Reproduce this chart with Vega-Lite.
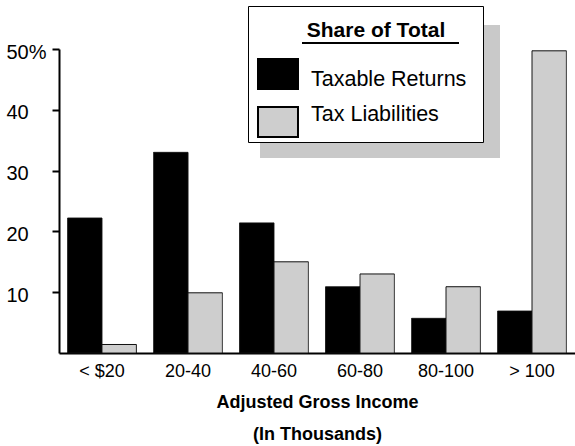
{
  "$schema": "https://vega.github.io/schema/vega-lite/v6.json",
  "width": 516,
  "height": 304,
  "autosize": {"type": "none"},
  "padding": {"left": 59, "top": 49, "right": 0, "bottom": 93},
  "background": "white",
  "config": {
    "font": "Liberation Sans",
    "view": {"stroke": null}
  },
  "data": {
    "values": [
      {"income": "< $20", "series": "Taxable Returns", "share": 22.2},
      {"income": "< $20", "series": "Tax Liabilities", "share": 1.4},
      {"income": "20-40", "series": "Taxable Returns", "share": 33.0},
      {"income": "20-40", "series": "Tax Liabilities", "share": 9.9},
      {"income": "40-60", "series": "Taxable Returns", "share": 21.4},
      {"income": "40-60", "series": "Tax Liabilities", "share": 15.0},
      {"income": "60-80", "series": "Taxable Returns", "share": 10.9},
      {"income": "60-80", "series": "Tax Liabilities", "share": 13.0},
      {"income": "80-100", "series": "Taxable Returns", "share": 5.7},
      {"income": "80-100", "series": "Tax Liabilities", "share": 10.9},
      {"income": "> 100", "series": "Taxable Returns", "share": 6.9},
      {"income": "> 100", "series": "Tax Liabilities", "share": 49.7}
    ]
  },
  "mark": {"type": "bar"},
  "encoding": {
    "x": {
      "field": "income",
      "type": "nominal",
      "sort": ["< $20", "20-40", "40-60", "60-80", "80-100", "> 100"],
      "scale": {"paddingInner": 0.2, "paddingOuter": 0.1},
      "axis": {
        "labelAngle": 0,
        "ticks": false,
        "domainColor": "black",
        "domainWidth": 2,
        "labelFont": "Liberation Sans",
        "labelFontSize": 18,
        "labelColor": "black",
        "labelPadding": 9,
        "title": ["Adjusted Gross Income", "(In Thousands)"],
        "titleFont": "Liberation Sans",
        "titleFontSize": 18,
        "titleFontWeight": "bold",
        "titleColor": "black",
        "titleLineHeight": 32,
        "titlePadding": 13
      }
    },
    "xOffset": {
      "field": "series",
      "type": "nominal",
      "sort": ["Taxable Returns", "Tax Liabilities"],
      "scale": {"paddingInner": 0, "paddingOuter": 0}
    },
    "y": {
      "field": "share",
      "type": "quantitative",
      "scale": {"domain": [0, 50], "nice": false},
      "axis": {
        "title": null,
        "grid": false,
        "values": [10, 20, 30, 40, 50],
        "labelExpr": "datum.value == 50 ? '50%' : datum.label",
        "domainColor": "black",
        "domainWidth": 2,
        "tickColor": "black",
        "tickWidth": 2,
        "tickSize": 7,
        "labelFont": "Liberation Sans",
        "labelFontSize": 20,
        "labelColor": "black",
        "labelAlign": "left",
        "labelPadding": 46,
        "labelOffset": 3
      }
    },
    "fill": {
      "field": "series",
      "type": "nominal",
      "scale": {"domain": ["Taxable Returns", "Tax Liabilities"], "range": ["#000000", "#cecece"]},
      "legend": {
        "title": "Share of Total",
        "orient": "none",
        "legendX": 198,
        "legendY": -34,
        "zindex": 3,
        "padding": 0,
        "titleFont": "Liberation Sans",
        "titleFontSize": 21,
        "titleFontWeight": "bold",
        "titleColor": "black",
        "titleAnchor": "middle",
        "titlePadding": 22,
        "labelFont": "Liberation Sans",
        "labelFontSize": 21.5,
        "labelColor": "black",
        "labelOffset": 17,
        "labelLimit": 300,
        "symbolType": "M-1.333,-1H1.333V1H-1.333Z",
        "symbolSize": 900,
        "symbolOffset": 5,
        "rowPadding": 10,
        "encode": {
          "title": {"update": {"dx": {"value": 14}, "dy": {"value": 5}}},
          "labels": {"update": {"dy": {"signal": "datum.value === 'Taxable Returns' ? 6 : -7"}}},
          "symbols": {"update": {"stroke": {"value": "black"}, "strokeWidth": {"value": 2}}}
        }
      }
    },
    "strokeDash": {
      "field": "series",
      "type": "nominal",
      "sort": {"field": "share", "op": "max"},
      "scale": {"range": [[1, 0], [1, 0]]},
      "legend": {
        "title": null,
        "values": ["Taxable Returns"],
        "orient": "none",
        "legendX": 189,
        "legendY": -43,
        "zindex": 2,
        "fillColor": "white",
        "strokeColor": "black",
        "padding": 0,
        "labelExpr": "''",
        "labelFontSize": 8,
        "labelOffset": 98,
        "symbolType": "square",
        "symbolSize": 18225,
        "symbolOffset": 0,
        "symbolOpacity": 0,
        "encode": {
          "legend": {"update": {"strokeWidth": {"value": 2}}},
          "symbols": {"update": {"strokeWidth": {"value": 0}, "opacity": {"value": 0}}}
        }
      }
    },
    "stroke": {
      "field": "series",
      "type": "nominal",
      "sort": "descending",
      "scale": {"range": ["#111111", "#111111"]},
      "legend": {
        "title": null,
        "values": ["Taxable Returns"],
        "orient": "none",
        "legendX": 201,
        "legendY": -24,
        "zindex": 1,
        "fillColor": "#c9c9c9",
        "padding": 0,
        "labelExpr": "''",
        "labelFontSize": 8,
        "labelOffset": 106,
        "symbolType": "square",
        "symbolSize": 17424,
        "symbolOffset": 0,
        "symbolOpacity": 0,
        "encode": {
          "symbols": {"update": {"strokeWidth": {"value": 0}, "opacity": {"value": 0}}}
        }
      }
    },
    "opacity": {
      "field": "series",
      "type": "nominal",
      "scale": {"range": [1, 1]},
      "legend": {
        "title": null,
        "values": ["Taxable Returns"],
        "orient": "none",
        "legendX": 243,
        "legendY": -7,
        "zindex": 4,
        "fillColor": "black",
        "padding": 0.5,
        "labelExpr": "''",
        "labelFontSize": 1,
        "labelOffset": 155,
        "symbolType": "square",
        "symbolSize": 1,
        "symbolStrokeWidth": 0,
        "symbolOffset": 0,
        "symbolOpacity": 0,
        "encode": {
          "symbols": {"update": {"strokeWidth": {"value": 0}, "opacity": {"value": 0}}}
        }
      }
    }
  }
}
